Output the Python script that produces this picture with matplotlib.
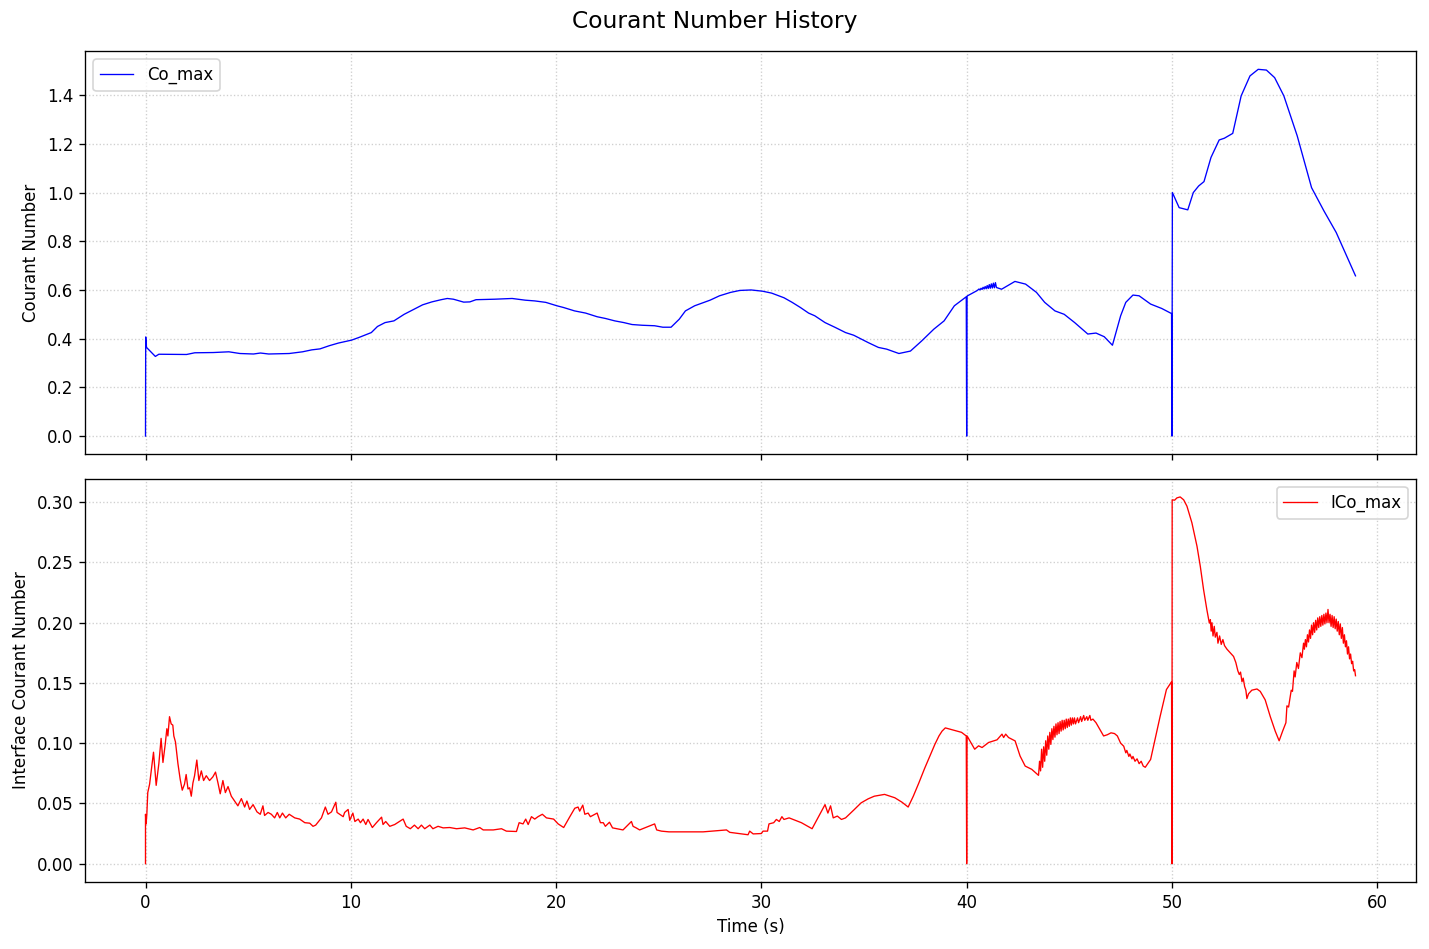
import matplotlib
matplotlib.use("Agg")
import matplotlib.pyplot as plt

# ---- Co_max (top panel) ----
co_time = [0.0, 0.01, 0.05, 0.48, 0.65, 2.0, 2.4, 3.3, 4.06, 4.6, 5.26, 5.6, 6.0, 7.0, 7.65,
           8.1, 8.5, 8.95, 9.4, 10.04, 10.4, 11.0, 11.3, 11.67, 12.1, 12.6, 13.08, 13.5, 13.95,
           14.4, 14.7, 15.0, 15.5, 15.8, 16.1, 17.0, 17.86, 18.5, 18.96, 19.5, 20.04, 20.36,
           20.9, 21.44, 22.0, 22.4, 22.86, 23.3, 23.7, 24.2, 24.8, 25.2, 25.6, 26.0, 26.3,
           26.75, 27.2, 27.5, 27.96, 28.5, 28.95, 29.5, 30.05, 30.5, 31.1, 31.5, 31.9, 32.3,
           32.6, 33.1, 33.6, 34.1, 34.5, 35.2, 35.7, 36.1, 36.7, 37.26, 37.8, 38.4, 38.9, 39.4,
           39.98, 40.0, 40.02, 40.5, 40.55, 40.6, 40.65, 40.7, 40.75, 40.8, 40.85, 40.9, 40.95,
           41.0, 41.05, 41.1, 41.15, 41.2, 41.25, 41.3, 41.35, 41.4, 41.45, 41.7, 42.35, 42.87,
           43.4, 43.8, 44.3, 44.75, 45.26, 45.9, 46.3, 46.7, 47.1, 47.5, 47.75, 48.1, 48.4,
           48.96, 49.5, 49.98, 50.0, 50.02, 50.35, 50.77, 51.04, 51.3, 51.56, 51.9, 52.3,
           52.55, 52.96, 53.37, 53.8, 54.2, 54.6, 55.0, 55.45, 56.1, 56.8, 57.4, 58.0, 58.94]
co_vals = [0.0, 0.407, 0.364, 0.327, 0.336, 0.335, 0.342, 0.343, 0.346, 0.339, 0.337, 0.341,
           0.337, 0.339, 0.346, 0.354, 0.358, 0.371, 0.382, 0.394, 0.405, 0.425, 0.45, 0.466,
           0.473, 0.50, 0.521, 0.539, 0.551, 0.56, 0.565, 0.562, 0.55, 0.551, 0.56, 0.562,
           0.565, 0.558, 0.555, 0.549, 0.535, 0.528, 0.514, 0.505, 0.49, 0.483, 0.473, 0.466,
           0.458, 0.455, 0.453, 0.447, 0.447, 0.48, 0.514, 0.535, 0.549, 0.558, 0.576, 0.59,
           0.598, 0.60, 0.595, 0.587, 0.568, 0.549, 0.528, 0.505, 0.494, 0.466, 0.446, 0.425,
           0.414, 0.384, 0.364, 0.357, 0.339, 0.349, 0.39, 0.439, 0.473, 0.535, 0.572, 0.0,
           0.575, 0.597, 0.600, 0.604, 0.600, 0.607, 0.602, 0.611, 0.604, 0.614, 0.605, 0.618,
           0.606, 0.622, 0.607, 0.625, 0.608, 0.628, 0.609, 0.630, 0.610, 0.603, 0.635, 0.624,
           0.59, 0.549, 0.514, 0.50, 0.466, 0.419, 0.423, 0.408, 0.373, 0.494, 0.549, 0.579,
           0.576, 0.542, 0.524, 0.503, 0.0, 1.0, 0.938, 0.929, 1.0, 1.027, 1.045, 1.144, 1.216,
           1.223, 1.243, 1.397, 1.479, 1.506, 1.503, 1.472, 1.397, 1.233, 1.02, 0.925, 0.836,
           0.658]

# ---- ICo_max (bottom panel) ----
ico_time = [0.0, 0.0, 0.03, 0.065, 0.11, 0.2, 0.39, 0.52, 0.65, 0.76, 0.85, 0.96, 1.04, 1.09,
            1.17, 1.25, 1.33, 1.38, 1.46, 1.58, 1.69, 1.79, 1.9, 1.98, 2.07, 2.15, 2.23, 2.31,
            2.39, 2.5, 2.6, 2.72, 2.83, 2.96, 3.12, 3.28, 3.41, 3.53, 3.64, 3.77, 3.89, 4.02,
            4.18, 4.34, 4.5, 4.67, 4.83, 4.94, 5.07, 5.24, 5.43, 5.59, 5.72, 5.8, 5.97, 6.13,
            6.29, 6.42, 6.54, 6.67, 6.83, 7.0, 7.27, 7.51, 7.76, 8.0, 8.16, 8.29, 8.57, 8.76,
            8.89, 9.06, 9.27, 9.33, 9.46, 9.63, 9.7, 9.87, 9.95, 10.1, 10.2, 10.36, 10.47, 10.6,
            10.73, 10.84, 11.05, 11.25, 11.5, 11.57, 11.7, 11.9, 12.14, 12.55, 12.7, 12.9, 13.1,
            13.28, 13.44, 13.6, 13.85, 14.0, 14.25, 14.5, 14.82, 15.15, 15.55, 15.96, 16.28,
            16.45, 16.94, 17.34, 17.58, 18.07, 18.2, 18.39, 18.52, 18.64, 18.8, 18.96, 19.12,
            19.33, 19.53, 19.88, 20.1, 20.37, 20.67, 20.91, 21.07, 21.15, 21.3, 21.4, 21.56,
            21.67, 22.0, 22.16, 22.3, 22.4, 22.6, 22.75, 23.26, 23.67, 23.75, 23.9, 24.07, 24.8,
            24.9, 25.13, 25.5, 26.2, 27.16, 28.3, 28.46, 29.35, 29.43, 29.6, 30.0, 30.08, 30.3,
            30.37, 30.6, 30.73, 30.87, 31.0, 31.1, 31.35, 31.95, 32.47, 32.8, 33.1, 33.24,
            33.37, 33.5, 33.7, 33.9, 34.1, 34.5, 34.86, 35.2, 35.5, 36.0, 36.5, 36.85, 37.15,
            37.4, 37.67, 37.95, 38.2, 38.45, 38.65, 38.8, 38.96, 39.33, 39.75, 39.98, 40.0,
            40.02, 40.39, 40.58, 40.75, 41.07, 41.48, 41.72,
            41.8, 41.9, 42.04, 42.36, 42.6, 42.85, 43.17, 43.5, 43.55, 43.6, 43.65, 43.7, 43.75,
            43.8, 43.85, 43.9, 43.95, 44.0, 44.05, 44.1, 44.15, 44.2, 44.25, 44.3, 44.35, 44.4,
            44.45, 44.5, 44.55, 44.6, 44.65, 44.7, 44.75, 44.8, 44.85, 44.9, 44.95, 45.0, 45.05,
            45.1, 45.15, 45.2, 45.25, 45.3, 45.4, 45.45, 45.55, 45.6, 45.7, 45.75, 45.85, 45.9,
            46.0, 46.05, 46.15, 46.3, 46.5, 46.67, 46.85, 47.03, 47.2, 47.34, 47.5, 47.65, 47.75,
            47.8, 47.9, 47.95, 48.05, 48.1, 48.2, 48.3, 48.4, 48.5, 48.6, 48.7, 48.96, 49.2,
            49.42, 49.73, 49.98, 50.0, 50.01, 50.13, 50.24, 50.4, 50.57, 50.73, 50.97, 51.22, 51.38,
            51.54, 51.7, 51.82, 51.87, 51.91, 51.95, 52.0, 52.06, 52.11, 52.19, 52.24, 52.32,
            52.4, 52.48, 52.56, 52.68, 52.84, 53.0, 53.11, 53.21, 53.28, 53.34, 53.41, 53.47,
            53.54, 53.6, 53.65, 53.73, 53.89, 54.14, 54.3, 54.54, 54.79, 55.03, 55.22, 55.39,
            55.55, 55.6, 55.68, 55.81, 55.87, 55.95, 56.0, 56.08, 56.16, 56.25, 56.33, 56.41,
            56.45, 56.5, 56.55, 56.6, 56.65, 56.7, 56.75, 56.8, 56.85, 56.9, 56.95, 57.0, 57.05,
            57.1, 57.15, 57.2, 57.25, 57.3, 57.35, 57.4, 57.45, 57.5, 57.55, 57.6, 57.65, 57.7,
            57.75, 57.8, 57.85, 57.9, 57.95, 58.0, 58.05, 58.1, 58.15, 58.2, 58.25, 58.3, 58.35,
            58.4, 58.45, 58.5, 58.55, 58.6, 58.65, 58.7, 58.75, 58.8, 58.85, 58.9, 58.94]
ico_vals = [0.0, 0.041, 0.033, 0.041, 0.059, 0.066, 0.0925, 0.065, 0.083, 0.104, 0.084, 0.099,
            0.112, 0.106, 0.122, 0.116, 0.115, 0.106, 0.101, 0.083, 0.070, 0.061, 0.066, 0.074,
            0.062, 0.063, 0.056, 0.067, 0.073, 0.086, 0.069, 0.077, 0.069, 0.073, 0.069, 0.072,
            0.076, 0.067, 0.058, 0.069, 0.059, 0.064, 0.056, 0.052, 0.048, 0.054, 0.047, 0.052,
            0.045, 0.049, 0.043, 0.041, 0.048, 0.040, 0.0425, 0.041, 0.038, 0.0425, 0.038, 0.042,
            0.038, 0.041, 0.038, 0.037, 0.034, 0.0336, 0.031, 0.032, 0.038, 0.047, 0.041, 0.043,
            0.051, 0.0425, 0.041, 0.039, 0.0425, 0.045, 0.036, 0.042, 0.035, 0.037, 0.034, 0.037,
            0.0325, 0.0367, 0.030, 0.034, 0.0386, 0.0325, 0.035, 0.031, 0.0325, 0.037, 0.031,
            0.029, 0.032, 0.029, 0.032, 0.029, 0.032, 0.029, 0.031, 0.0297, 0.030, 0.029, 0.0297,
            0.028, 0.030, 0.028, 0.028, 0.029, 0.027, 0.0267, 0.034, 0.033, 0.037, 0.0325, 0.039,
            0.037, 0.039, 0.041, 0.038, 0.037, 0.033, 0.030, 0.039, 0.046, 0.047, 0.0436, 0.0486,
            0.041, 0.042, 0.039, 0.042, 0.034, 0.034, 0.031, 0.0344, 0.0297, 0.028, 0.035, 0.031,
            0.0297, 0.028, 0.033, 0.028, 0.027, 0.0264, 0.0264, 0.0264, 0.028, 0.026, 0.024,
            0.027, 0.0247, 0.025, 0.027, 0.027, 0.033, 0.034, 0.0367, 0.035, 0.039, 0.0367,
            0.038, 0.034, 0.029, 0.0395, 0.049, 0.042, 0.048, 0.038, 0.0395, 0.0367, 0.038,
            0.0445, 0.0505, 0.0538, 0.056, 0.0575, 0.0547, 0.051, 0.047,
            0.056, 0.067, 0.079, 0.089, 0.099, 0.106, 0.110, 0.1127, 0.111, 0.109, 0.106, 0.0,
            0.106, 0.0950, 0.0978, 0.0964, 0.1006, 0.1028, 0.1075,
            0.1047, 0.1075,
            0.1047, 0.1019, 0.0894, 0.081, 0.0783, 0.0733, 0.085, 0.077, 0.095, 0.080, 0.097,
            0.085, 0.102, 0.090, 0.106, 0.095, 0.109, 0.099, 0.112, 0.103, 0.114, 0.105, 0.116,
            0.107, 0.117, 0.108, 0.118, 0.110, 0.119, 0.111, 0.119, 0.112, 0.120, 0.113, 0.120,
            0.114, 0.121, 0.115, 0.121, 0.116, 0.121, 0.116, 0.121, 0.117, 0.122, 0.118, 0.123,
            0.119, 0.122, 0.119, 0.123, 0.119, 0.120, 0.117, 0.111, 0.106, 0.107, 0.1086, 0.108,
            0.106, 0.100, 0.0975, 0.092, 0.094, 0.089, 0.091, 0.087, 0.089, 0.085, 0.087, 0.083,
            0.085, 0.081, 0.080, 0.0865, 0.105, 0.122, 0.1445, 0.151, 0.0, 0.302, 0.3017, 0.3036,
            0.3044, 0.302, 0.2967, 0.283, 0.2634, 0.2468, 0.2274, 0.2108, 0.1997, 0.2025, 0.193,
            0.200, 0.189, 0.197, 0.188, 0.192, 0.183, 0.189, 0.182, 0.186, 0.181, 0.178, 0.175,
            0.172, 0.167, 0.160, 0.157, 0.159, 0.151, 0.154, 0.147, 0.144, 0.137, 0.141, 0.144,
            0.145, 0.143, 0.136, 0.122, 0.110, 0.102, 0.110, 0.117, 0.131, 0.130, 0.144, 0.143,
            0.160, 0.155, 0.167, 0.162, 0.175, 0.171, 0.183, 0.178, 0.186, 0.180, 0.190, 0.184,
            0.194, 0.187, 0.198, 0.190, 0.200, 0.192, 0.202, 0.194, 0.204, 0.196, 0.205, 0.197,
            0.206, 0.198, 0.207, 0.199, 0.208, 0.200, 0.211, 0.200, 0.207, 0.197, 0.206, 0.196,
            0.205, 0.195, 0.203, 0.193, 0.201, 0.190, 0.199, 0.187, 0.196, 0.183, 0.190, 0.180,
            0.185, 0.174, 0.180, 0.170, 0.174, 0.166, 0.168, 0.160, 0.161, 0.156]

DPI = 120
fig, (ax1, ax2) = plt.subplots(2, 1, sharex=True, figsize=(1429 / DPI, 949 / DPI), dpi=DPI)
fig.subplots_adjust(left=85 / 1429, right=1416 / 1429, top=1 - 51 / 949,
                    bottom=1 - 882 / 949, hspace=0.06)

ax1.plot(co_time, co_vals, color="blue", linewidth=0.8, label="Co_max")
ax1.set_ylabel("Courant Number")
ax1.grid(True, linestyle=":", alpha=0.6)
ax1.legend(loc="upper left")

ax2.plot(ico_time, ico_vals, color="red", linewidth=0.8, label="ICo_max")
ax2.set_ylabel("Interface Courant Number")
ax2.set_xlabel("Time (s)")
ax2.grid(True, linestyle=":", alpha=0.6)
ax2.legend(loc="upper right")

fig.suptitle("Courant Number History", fontsize=14, y=1 - 10 / 949)
fig.savefig("out.png", dpi=DPI)
